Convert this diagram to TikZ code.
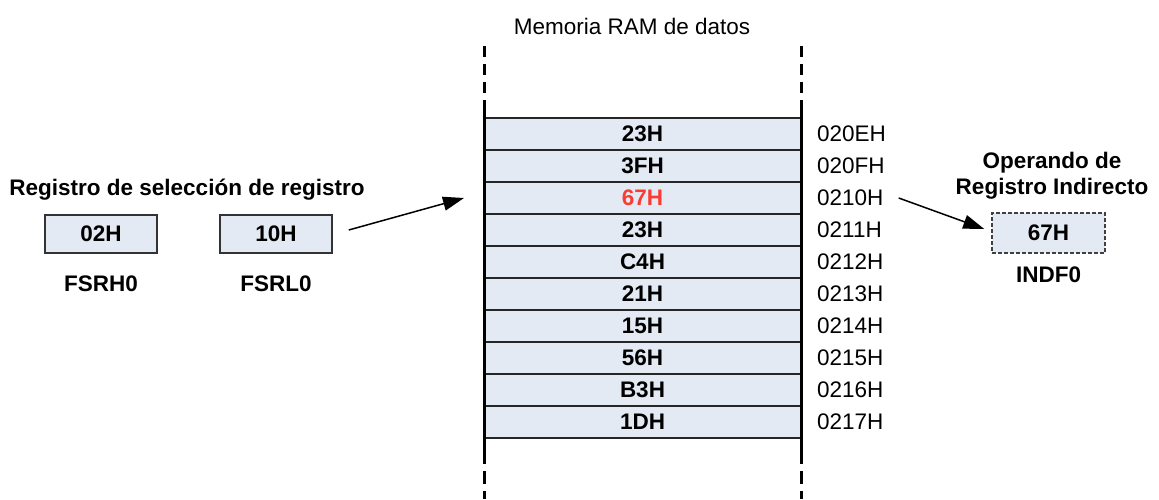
\documentclass[tikz,border=0pt]{standalone}
\usepackage{fontspec}
\setmainfont{Liberation Sans}
\usetikzlibrary{arrows.meta,calc}
\definecolor{cellfill}{RGB}{228,234,244}
\definecolor{hotred}{RGB}{250,60,50}
\begin{document}
\begin{tikzpicture}[x=1pt,y=-1pt,
  font=\fontsize{22.5}{27}\selectfont,
  cell/.style={draw=black!85,line width=2pt,fill=cellfill,minimum width=317pt,minimum height=32pt,inner sep=0pt,font=\fontsize{22.5}{27}\selectfont\bfseries},
  reg/.style={draw=black!80,line width=1.5pt,fill=cellfill,minimum width=112pt,minimum height=38pt,inner sep=0pt,font=\fontsize{22.5}{27}\selectfont\bfseries},
  addr/.style={anchor=west,inner sep=0pt},
  lbl/.style={inner sep=0pt,font=\fontsize{22.5}{27}\selectfont\bfseries},
  colline/.style={line width=3pt,black},
  ptr/.style={line width=1.5pt,-{Triangle[length=21pt,width=14pt]}}]
\useasboundingbox (0,0) rectangle (1159,499);

% title
\node[inner sep=0pt] (title) at (632,26) {Memoria RAM de datos};

% memory cells with their addresses
\foreach \v/\a [count=\i from 0] in {23H/020EH,3FH/020FH,67H/0210H,23H/0211H,C4H/0212H,21H/0213H,15H/0214H,56H/0215H,B3H/0216H,1DH/0217H}{
  \node[cell] (m\i) at (642.5,{134+32*\i}) {\ifnum\i=2 \textcolor{hotred}{\v}\else\v\fi};
  \node[addr] (a\i) at (817,{134+32*\i}) {\a};
}

% column borders: dashed continuation above and below
\draw[colline,dash pattern=on 11pt off 7pt] (484,46) -- (484,100);
\draw[colline,dash pattern=on 11pt off 7pt] (801,46) -- (801,100);
\draw[colline] (484,100) -- (484,464);
\draw[colline] (801,100) -- (801,464);
\draw[colline,dash pattern=on 13pt off 7pt] (484,471) -- (484,499);
\draw[colline,dash pattern=on 13pt off 7pt] (801,471) -- (801,499);

% register pair
\node[lbl] (sel) at (187,190) {Registro de selección de registro};
\node[reg] (fsrh) at (101,234) {02H};
\node[reg] (fsrl) at (276,234) {10H};
\node[lbl] (nh) at (101,284) {FSRH0};
\node[lbl] (nl) at (276,284) {FSRL0};

% indirect operand
\node[lbl,align=center] (op) at (1052,176) {Operando de\\[-1pt]Registro Indirecto};
\node[reg,dashed,dash pattern=on 4pt off 2pt,draw=black!75,minimum width=113pt,minimum height=40pt] (indf) at (1048.5,233) {67H};
\node[lbl] (ni) at (1048.5,275) {INDF0};

% pointers
\draw[ptr] ($(fsrl.east)+(16,-4)$) -- ($(m2.west)+(-19,0)$);
\draw[ptr] ($(a2.east)+(15,0)$) -- ($(indf.west)+(-7,-4)$);
\end{tikzpicture}
\end{document}
